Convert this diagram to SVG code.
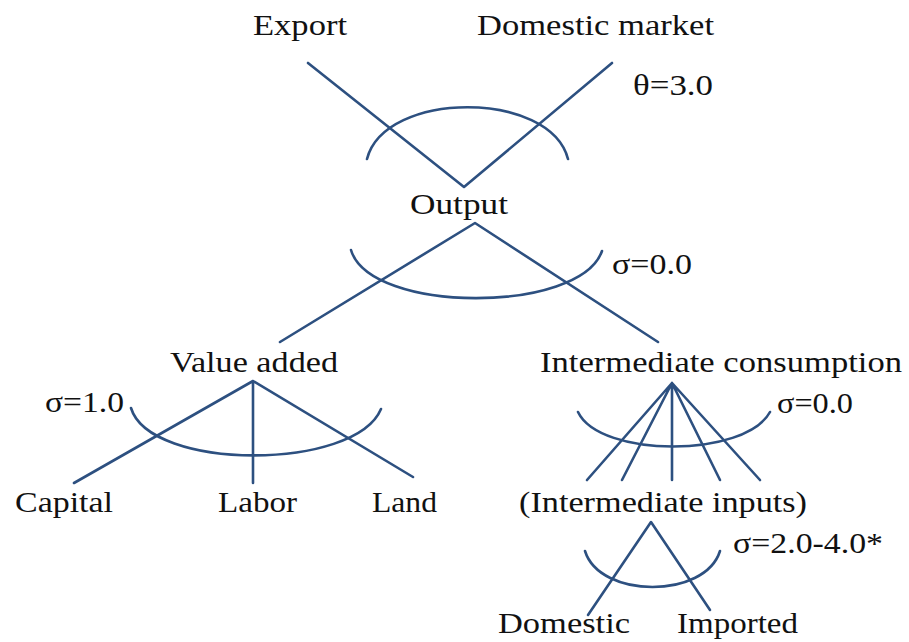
<svg xmlns="http://www.w3.org/2000/svg" width="909" height="642" viewBox="0 0 909 642">
<style>
text{font-family:"Liberation Serif","Times New Roman",serif;font-size:29px;fill:#111;}
.c{fill:none;stroke:#2d5080;stroke-width:2.6;stroke-linecap:round;stroke-linejoin:round;}
</style>
<rect width="909" height="642" fill="#fff"/>
<g id="connectors">
<path class="c" d="M308,63 L464,187 L612,63"/>
<path class="c" d="M367,159 C385,90 550,90 568,159"/>
<path class="c" d="M280,342 L475,223 L658,342"/>
<path class="c" d="M351,250 C370,314 580,314 602,251"/>
<path class="c" d="M74,483 L253,381 L413,477 M253,381 L253,483"/>
<path class="c" d="M131,408 C150,471 355,471 381,409"/>
<path class="c" d="M587,480 L672,383 L622,480 M672,383 L672,480 M672,383 L720,480 M672,383 L760,480"/>
<path class="c" d="M578,412 C600,458 745,458 770,412"/>
<path class="c" d="M588,615 L651,522 L710,610"/>
<path class="c" d="M585,551 C600,599 705,599 720,551"/>
</g>
<g id="export"><text x="253" y="35" textLength="94" lengthAdjust="spacingAndGlyphs">Export</text></g>
<g id="domestic-market"><text x="477" y="35" textLength="237" lengthAdjust="spacingAndGlyphs">Domestic market</text></g>
<g id="theta"><text x="633" y="95" textLength="80" lengthAdjust="spacingAndGlyphs">θ=3.0</text></g>
<g id="output"><text x="410" y="214" textLength="98" lengthAdjust="spacingAndGlyphs">Output</text></g>
<g id="sigma-output"><text x="612" y="274" textLength="80" lengthAdjust="spacingAndGlyphs">σ=0.0</text></g>
<g id="value-added"><text x="170" y="372" textLength="168" lengthAdjust="spacingAndGlyphs">Value added</text></g>
<g id="intermediate-consumption"><text x="540" y="372" textLength="362" lengthAdjust="spacingAndGlyphs">Intermediate consumption</text></g>
<g id="sigma-va"><text x="45" y="412" textLength="79" lengthAdjust="spacingAndGlyphs">σ=1.0</text></g>
<g id="sigma-ic"><text x="777" y="413" textLength="76" lengthAdjust="spacingAndGlyphs">σ=0.0</text></g>
<g id="capital"><text x="15" y="512" textLength="98" lengthAdjust="spacingAndGlyphs">Capital</text></g>
<g id="labor"><text x="218" y="512" textLength="79" lengthAdjust="spacingAndGlyphs">Labor</text></g>
<g id="land"><text x="372" y="512" textLength="65" lengthAdjust="spacingAndGlyphs">Land</text></g>
<g id="intermediate-inputs"><text x="519" y="512" textLength="288" lengthAdjust="spacingAndGlyphs">(Intermediate inputs)</text></g>
<g id="sigma-armington"><text x="733" y="553" textLength="150" lengthAdjust="spacingAndGlyphs">σ=2.0-4.0*</text></g>
<g id="domestic"><text x="498" y="633" textLength="132" lengthAdjust="spacingAndGlyphs">Domestic</text></g>
<g id="imported"><text x="677" y="633" textLength="121" lengthAdjust="spacingAndGlyphs">Imported</text></g>
</svg>
